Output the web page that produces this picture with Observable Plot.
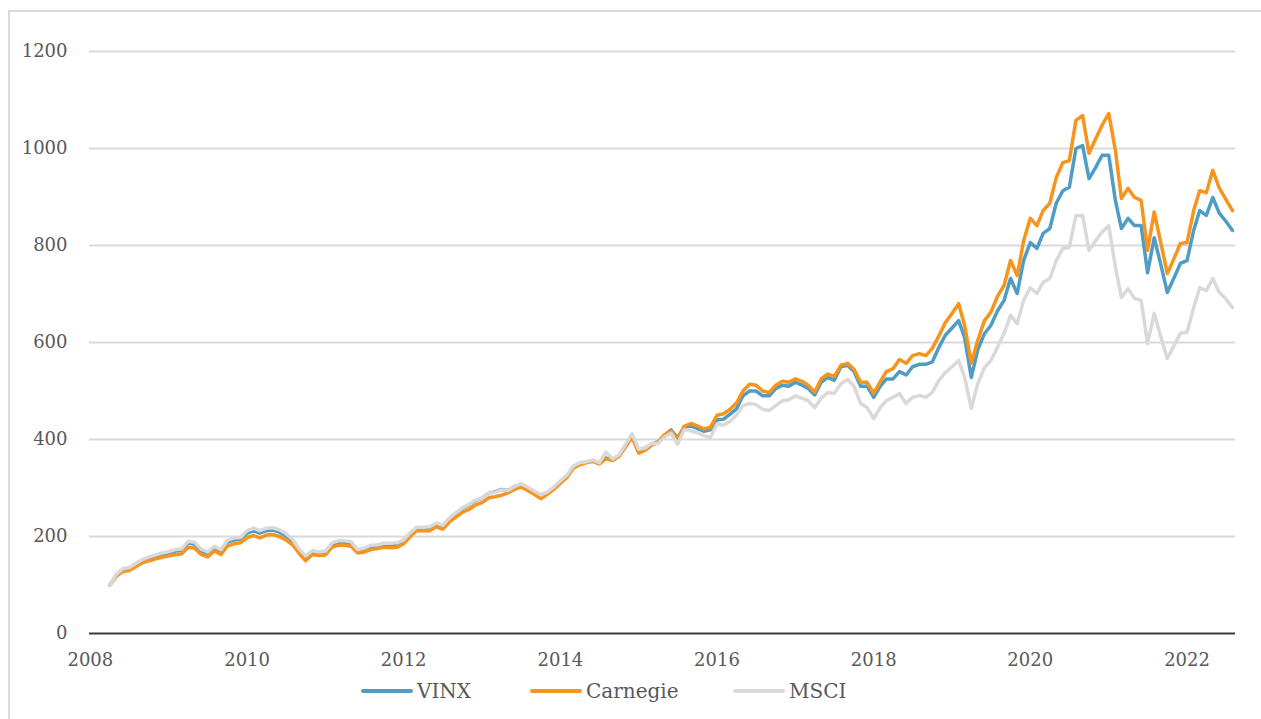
<!DOCTYPE html>
<html>
<head>
<meta charset="utf-8">
<script src="https://cdn.jsdelivr.net/npm/d3@7"></script>
<script src="https://cdn.jsdelivr.net/npm/@observablehq/plot@0.6"></script>
<style>
  html, body { margin: 0; padding: 0; background: #fff; overflow: hidden; }
  #wrap { position: relative; width: 1261px; height: 719px; }
  #frame { position: absolute; left: 8px; top: 10px; width: 1300px; height: 800px; border: 2px solid #d9d9d9; box-sizing: border-box; }
  #chart { position: absolute; left: 0; top: 0; }
  #legend { position: absolute; left: 0; top: 676px; width: 1261px; height: 30px; font-family: "DejaVu Serif", Georgia, serif; font-size: 20px; color: #595959; }
  .item { position: absolute; top: 0; display: flex; align-items: center; height: 30px; }
  .sw { width: 52px; height: 4px; border-radius: 2px; margin-right: 4px; }
</style>
</head>
<body>
<div id="wrap">
  <div id="frame"></div>
  <div id="chart"></div>
  <div id="legend"></div>
</div>
<script>
// Monthly series, starting April 2008, ending August 2022
const startYear = 2008, startMonth = 3; // April (0-based)

const seriesNames = ["VINX", "Carnegie", "MSCI"];
const seriesColors = ["#4f9cc4", "#f7941d", "#d9d9d9"];

const vinx = [100,120,132,134,143,151,156,160,163,166,170,171,187,184,170,165,178,170,188,193,
195,207,212,207,212,213,209,201,190,171,155,168,166,167,184,188,188,186,171,174,
179,181,184,183,184,190,206,217,217,218,226,222,237,248,258,265,274,279,289,292,
297,295,303,307,300,292,283,290,300,313,325,343,350,353,356,350,362,357,366,386,
406,374,380,390,395,408,420,403,425,428,423,417,420,440,442,452,463,490,500,500,
490,490,505,512,510,518,512,505,492,518,528,522,550,553,540,510,510,487,510,525,
525,540,533,550,555,555,560,590,615,630,645,610,528,585,618,635,665,687,732,701,
769,806,794,825,835,887,913,920,1000,1006,938,961,986,986,893,835,856,841,841,744,
816,760,703,733,763,769,831,872,862,899,866,850,831];

const carnegie = [100,118,128,130,138,146,150,154,157,160,163,164,178,176,163,158,170,163,180,185,
187,198,202,197,203,204,200,193,183,165,150,163,161,162,178,182,182,180,166,168,
173,175,178,177,178,185,200,212,212,212,220,215,230,240,250,256,265,270,280,282,
285,290,297,302,295,287,278,287,297,310,322,340,348,352,355,350,360,357,365,385,
405,372,378,388,394,410,418,400,427,433,428,422,425,450,453,462,475,500,514,512,
500,497,512,520,518,525,520,512,498,525,535,530,553,557,545,518,518,495,520,540,
546,565,557,573,577,573,588,614,641,660,680,635,557,604,645,662,695,718,769,738,
810,856,841,872,887,940,971,975,1058,1068,990,1020,1048,1072,996,897,918,899,893,790,
869,805,742,773,804,806,872,913,909,955,918,895,872];

const msci = [100,122,134,136,145,153,158,162,166,169,173,174,190,188,174,168,180,173,192,197,
198,212,217,212,217,218,214,206,194,174,160,171,168,170,187,191,191,189,173,176,
182,183,186,186,187,193,208,219,219,220,228,223,238,249,259,266,275,279,288,291,
296,295,303,309,302,294,286,292,302,315,327,345,352,354,358,352,374,360,368,390,
412,380,383,392,392,405,413,390,420,418,414,408,404,432,430,437,450,470,474,472,
462,460,470,480,482,490,485,480,466,485,497,495,515,524,510,474,466,443,466,480,
487,495,474,487,491,487,497,522,538,550,563,528,464,515,548,563,590,619,656,639,
687,713,701,724,732,769,794,796,862,862,790,810,828,841,755,693,711,691,687,598,
660,612,567,593,619,621,672,713,707,732,703,690,672];

const yTicks = [0, 200, 400, 600, 800, 1000, 1200];
const xTickYears = [2008, 2010, 2012, 2014, 2016, 2018, 2020, 2022];

const allValues = [vinx, carnegie, msci];
const data = [];
allValues.forEach((arr, s) => {
  arr.forEach((v, i) => {
    data.push({series: seriesNames[s], date: new Date(Date.UTC(startYear, startMonth + i, 1)), value: v});
  });
});

const font = '"DejaVu Serif", Georgia, serif';

const chart = Plot.plot({
  width: 1261,
  height: 675,
  marginLeft: 89,
  marginRight: 26,
  marginTop: 51,
  marginBottom: 42,
  style: {fontFamily: font, fontSize: "18px", color: "#595959", background: "transparent", overflow: "visible"},
  x: {type: "utc", domain: [new Date(Date.UTC(2007, 11, 28)), new Date(Date.UTC(2022, 7, 15))]},
  y: {domain: [0, 1200]},
  color: {domain: seriesNames, range: seriesColors},
  marks: [
    Plot.gridY(yTicks.filter(d => d > 0), {stroke: "#d9d9d9", strokeOpacity: 1, strokeWidth: 2}),
    Plot.axisY(yTicks, {tickSize: 0, tickPadding: 22, label: null, tickFormat: d3.format("d"), fill: "#595959", fontSize: 18}),
    Plot.axisX(xTickYears.map(y => new Date(Date.UTC(y, 0, 1))), {tickSize: 0, tickPadding: 20, label: null, tickFormat: d3.utcFormat("%Y"), fill: "#595959", fontSize: 18}),
    Plot.line(data, {x: "date", y: "value", z: "series", stroke: "series", strokeWidth: 3.5, strokeLinejoin: "round", strokeLinecap: "round"}),
    Plot.ruleY([0], {stroke: "#3a3a3a", strokeWidth: 2})
  ]
});
document.getElementById("chart").appendChild(chart);

const legend = document.getElementById("legend");
const legendX = [361, 530, 733];
seriesNames.forEach((name, i) => {
  const it = document.createElement("div");
  it.className = "item";
  it.style.left = legendX[i] + "px";
  const sw = document.createElement("div");
  sw.className = "sw";
  sw.style.background = seriesColors[i];
  const tx = document.createElement("span");
  tx.textContent = name;
  it.appendChild(sw);
  it.appendChild(tx);
  legend.appendChild(it);
});
</script>
</body>
</html>
